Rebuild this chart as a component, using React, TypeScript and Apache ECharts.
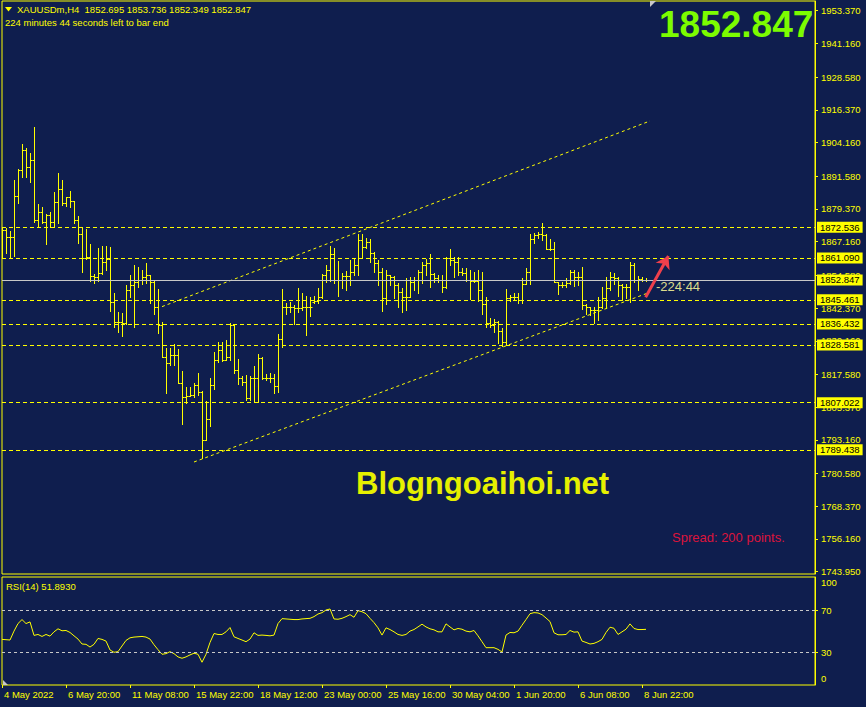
import { useEffect, useRef } from 'react';
import * as echarts from 'echarts';

const FONT = "'Liberation Sans', Arial, sans-serif";
const YEL = '#ffff00';
const BG = '#0f1e4e';

// time axis labels (every 16 H4 bars)
const labelBars = [0, 16, 32, 48, 64, 80, 96, 112, 128, 144, 160];
const barLabels = ['4 May 2022', '6 May 20:00', '11 May 08:00', '15 May 22:00', '18 May 12:00', '23 May 00:00', '25 May 16:00', '30 May 04:00', '1 Jun 20:00', '6 Jun 08:00', '8 Jun 22:00'];

// price scale labels
const priceTicks = [1953.37, 1941.16, 1928.58, 1916.37, 1904.16, 1891.58, 1879.37, 1867.16, 1854.58, 1842.37, 1830.16, 1817.58, 1805.37, 1793.16, 1780.58, 1768.37, 1756.16, 1743.95];
const rsiTicks = [0, 30, 70, 100];
const rsiLevels = [70, 30];

// horizontal levels and bid
const levelPrices = [1872.536, 1861.09, 1845.461, 1836.432, 1828.581, 1807.022, 1789.438];
const bidPrice = 1852.847;

// channel lines [barIndex, price]
const upperChannel = [[40, 1842.9], [162, 1912.2]];
const lowerChannel = [[48, 1784.9], [161.5, 1848.0]];
const arrowFrom = [160.9, 1846.4];
const arrowTo = [166.6, 1861.8];

// XAUUSD H4 OHLC
const opens = [1870.9, 1871.5, 1869.0, 1869.0, 1884.2, 1893.9, 1901.4, 1895.2, 1897.6, 1875.2,
  1878.1, 1874.6, 1877.1, 1874.6, 1882.1, 1886.7, 1881.5, 1883.7, 1882.5, 1875.2,
  1869.9, 1860.9, 1861.6, 1854.3, 1854.1, 1855.3, 1859.7, 1860.6, 1844.8, 1837.3,
  1837.3, 1836.7, 1849.1, 1851.0, 1852.2, 1852.8, 1854.1, 1854.7, 1852.2, 1842.9,
  1836.0, 1824.2, 1821.7, 1824.9, 1824.9, 1814.3, 1809.3, 1809.5, 1809.9, 1813.7,
  1811.2, 1793.1, 1800.8, 1813.7, 1823.0, 1826.7, 1823.0, 1824.0, 1836.0, 1819.3,
  1816.1, 1814.9, 1808.7, 1816.1, 1816.1, 1823.6, 1816.1, 1816.4, 1816.1, 1813.4,
  1830.7, 1842.9, 1842.9, 1842.6, 1842.3, 1842.3, 1842.6, 1842.6, 1844.5, 1845.1,
  1846.4, 1854.7, 1856.6, 1862.6, 1852.8, 1852.8, 1854.3, 1854.3, 1856.0, 1858.4,
  1867.8, 1865.3, 1867.2, 1862.8, 1859.1, 1856.0, 1846.0, 1854.7, 1854.1, 1851.0,
  1848.5, 1846.6, 1846.6, 1852.2, 1852.8, 1856.0, 1858.4, 1859.1, 1855.1, 1853.5,
  1852.8, 1850.1, 1860.9, 1860.3, 1859.7, 1856.0, 1855.6, 1852.8, 1852.6, 1852.6,
  1849.1, 1843.9, 1836.7, 1836.0, 1837.3, 1833.9, 1829.8, 1846.0, 1846.4, 1846.4,
  1845.4, 1851.4, 1856.0, 1868.0, 1869.6, 1870.0, 1869.6, 1864.4, 1864.3, 1852.2,
  1851.0, 1851.0, 1851.8, 1856.0, 1854.1, 1854.1, 1843.5, 1842.6, 1841.6, 1841.6,
  1842.6, 1846.0, 1849.7, 1854.1, 1853.5, 1851.0, 1850.1, 1850.4, 1858.4, 1852.8,
  1853.1, 1852.695];
const highs = [1872.1, 1872.1, 1871.1, 1890.2, 1894.2, 1903.6, 1902.0, 1900.1, 1909.8, 1881.2,
  1880.0, 1877.4, 1878.4, 1885.8, 1892.9, 1890.2, 1884.0, 1886.1, 1882.5, 1876.7,
  1872.8, 1871.9, 1866.2, 1855.1, 1864.9, 1865.5, 1865.5, 1865.0, 1847.9, 1841.0,
  1840.4, 1851.0, 1854.7, 1858.4, 1857.8, 1856.6, 1859.1, 1854.8, 1852.8, 1849.5,
  1837.3, 1827.3, 1827.3, 1829.0, 1827.0, 1819.0, 1813.0, 1813.0, 1814.5, 1818.0,
  1811.5, 1807.7, 1816.1, 1826.1, 1829.8, 1829.8, 1830.4, 1836.7, 1836.4, 1823.4,
  1817.0, 1817.4, 1817.0, 1820.7, 1825.2, 1824.0, 1817.8, 1818.0, 1817.8, 1832.7,
  1849.4, 1844.4, 1844.8, 1843.5, 1849.7, 1847.9, 1846.9, 1846.4, 1846.9, 1849.7,
  1855.1, 1858.4, 1865.5, 1864.7, 1860.1, 1855.6, 1856.2, 1860.3, 1860.9, 1870.0,
  1870.0, 1868.4, 1868.2, 1863.4, 1860.3, 1857.2, 1856.6, 1854.7, 1854.5, 1851.8,
  1849.7, 1853.5, 1854.1, 1853.8, 1856.6, 1859.4, 1860.6, 1862.6, 1855.6, 1854.7,
  1854.7, 1861.6, 1864.3, 1861.3, 1861.3, 1857.2, 1857.2, 1856.6, 1856.0, 1856.6,
  1856.0, 1846.4, 1838.5, 1838.2, 1837.5, 1834.8, 1849.5, 1847.2, 1847.9, 1848.1,
  1853.5, 1857.2, 1870.0, 1870.5, 1870.9, 1874.0, 1870.0, 1868.0, 1867.2, 1852.2,
  1852.2, 1853.5, 1856.6, 1856.6, 1856.0, 1857.8, 1843.9, 1842.6, 1842.9, 1846.4,
  1850.1, 1853.8, 1856.0, 1855.3, 1854.1, 1851.4, 1851.4, 1859.7, 1859.1, 1854.3,
  1853.8, 1853.736];
const lows = [1861.6, 1862.8, 1861.6, 1861.8, 1881.5, 1891.4, 1891.4, 1889.6, 1874.6, 1872.5,
  1874.2, 1866.2, 1872.8, 1873.0, 1874.2, 1880.8, 1880.5, 1880.2, 1874.0, 1866.5,
  1856.0, 1860.6, 1852.6, 1851.9, 1852.6, 1855.0, 1856.6, 1841.4, 1835.4, 1833.3,
  1831.9, 1836.4, 1846.6, 1835.2, 1850.4, 1851.4, 1851.6, 1844.1, 1840.2, 1833.2,
  1824.2, 1810.8, 1821.1, 1821.1, 1814.3, 1799.1, 1807.1, 1809.5, 1809.3, 1809.9,
  1786.5, 1793.0, 1798.3, 1812.0, 1822.4, 1822.7, 1823.0, 1823.0, 1818.0, 1813.9,
  1813.7, 1808.1, 1808.1, 1807.4, 1807.4, 1815.8, 1815.5, 1814.9, 1810.8, 1811.2,
  1827.7, 1840.0, 1841.0, 1836.4, 1841.0, 1841.6, 1832.3, 1839.4, 1844.1, 1844.1,
  1846.0, 1852.2, 1852.6, 1851.8, 1846.9, 1849.7, 1849.1, 1851.0, 1854.7, 1854.7,
  1861.3, 1864.7, 1859.7, 1856.0, 1851.0, 1841.4, 1843.9, 1851.0, 1846.0, 1842.9,
  1841.0, 1841.6, 1846.5, 1849.1, 1848.1, 1851.8, 1854.7, 1850.4, 1852.2, 1852.2,
  1848.5, 1850.0, 1858.4, 1854.1, 1854.7, 1854.7, 1852.6, 1845.6, 1852.2, 1845.1,
  1840.2, 1835.4, 1835.4, 1833.6, 1829.5, 1828.2, 1828.6, 1845.1, 1845.4, 1844.1,
  1844.4, 1851.4, 1851.4, 1866.5, 1868.4, 1867.8, 1864.3, 1864.0, 1852.2, 1847.6,
  1850.4, 1850.4, 1851.4, 1850.6, 1851.0, 1841.9, 1840.2, 1839.8, 1836.9, 1837.9,
  1842.3, 1842.3, 1849.1, 1851.4, 1846.9, 1845.4, 1846.0, 1844.8, 1852.2, 1849.1,
  1852.6, 1852.349];
const closes = [1871.5, 1869.0, 1869.0, 1884.2, 1893.9, 1901.4, 1895.2, 1897.6, 1875.2, 1878.1,
  1874.6, 1877.1, 1874.6, 1882.1, 1886.7, 1881.5, 1883.7, 1882.5, 1875.2, 1869.9,
  1860.9, 1861.6, 1854.3, 1854.1, 1855.3, 1859.7, 1860.6, 1844.8, 1837.3, 1837.3,
  1836.7, 1849.1, 1851.0, 1852.2, 1852.8, 1854.1, 1854.7, 1852.2, 1842.9, 1836.0,
  1824.2, 1821.7, 1824.9, 1824.9, 1814.3, 1809.3, 1809.5, 1809.9, 1813.7, 1811.2,
  1793.1, 1800.8, 1813.7, 1823.0, 1826.7, 1823.0, 1824.0, 1836.0, 1819.3, 1816.1,
  1814.9, 1808.7, 1816.1, 1816.1, 1823.6, 1816.1, 1816.4, 1816.1, 1813.4, 1830.7,
  1842.9, 1842.9, 1842.6, 1842.3, 1842.3, 1842.6, 1842.6, 1842.6, 1845.1, 1846.4,
  1854.7, 1856.6, 1862.6, 1852.8, 1852.8, 1854.3, 1854.3, 1856.0, 1858.4, 1867.8,
  1865.3, 1867.2, 1862.8, 1859.1, 1856.0, 1846.0, 1854.7, 1854.1, 1851.0, 1848.5,
  1846.6, 1846.6, 1852.2, 1852.8, 1856.0, 1858.4, 1859.1, 1855.1, 1853.5, 1852.8,
  1850.1, 1860.9, 1860.3, 1859.7, 1856.0, 1855.6, 1852.8, 1852.6, 1852.6, 1849.1,
  1843.9, 1836.7, 1836.0, 1837.3, 1833.9, 1829.8, 1846.0, 1846.4, 1846.4, 1845.4,
  1851.4, 1856.0, 1868.0, 1869.6, 1870.0, 1869.6, 1864.4, 1864.3, 1852.2, 1851.0,
  1851.0, 1851.8, 1856.0, 1854.1, 1854.1, 1843.5, 1842.6, 1841.6, 1841.6, 1842.6,
  1846.0, 1849.7, 1854.1, 1853.5, 1851.0, 1850.1, 1850.4, 1858.4, 1852.8, 1853.1,
  1852.7, 1852.847];

// RSI(14)
const rsi14 = [42.3, 42.0, 41.7, 50.2, 57.4, 61.2, 57.4, 59.0, 46.1, 47.0,
  45.1, 47.0, 45.4, 49.5, 52.4, 50.5, 50.8, 48.9, 45.7, 42.6,
  37.9, 37.6, 35.0, 37.6, 43.2, 42.3, 40.7, 32.2, 30.0, 30.6,
  36.0, 41.3, 43.8, 44.5, 44.8, 45.1, 44.5, 42.6, 37.2, 32.5,
  28.1, 28.7, 30.6, 28.7, 25.6, 24.3, 25.6, 27.5, 29.1, 28.1,
  20.5, 28.1, 39.4, 47.9, 47.0, 47.0, 49.5, 53.6, 44.8, 43.2,
  41.7, 40.1, 42.6, 48.6, 46.1, 46.4, 46.1, 45.7, 46.4, 57.4,
  62.1, 61.8, 61.5, 61.2, 61.2, 61.8, 62.1, 62.4, 64.0, 66.5,
  67.8, 70.3, 71.3, 61.8, 61.5, 62.4, 64.0, 65.9, 63.4, 69.7,
  68.7, 66.8, 62.4, 58.3, 53.3, 46.4, 53.3, 51.7, 49.5, 47.0,
  46.1, 47.0, 50.2, 51.7, 54.2, 56.8, 54.2, 52.4, 51.4, 49.5,
  49.5, 57.1, 54.2, 51.4, 52.7, 52.0, 50.2, 49.5, 50.8, 45.7,
  40.1, 34.4, 34.4, 34.4, 32.8, 30.3, 46.4, 48.9, 48.6, 50.2,
  55.8, 61.2, 66.8, 67.8, 67.5, 65.9, 62.7, 59.3, 48.6, 46.7,
  46.7, 47.0, 50.8, 49.2, 49.5, 40.7, 39.4, 37.9, 38.5, 40.1,
  42.3, 48.9, 53.9, 52.9, 47.0, 49.5, 52.0, 57.1, 52.7, 51.7,
  51.7, 51.893];

export default function App() {
  const ref = useRef<HTMLDivElement>(null);
  useEffect(() => {
    const chart = echarts.init(ref.current as HTMLDivElement, null, { renderer: 'svg' });
    const txt = { fontFamily: FONT, fontSize: 9.5, color: YEL };
    const bars = opens.map((o, i) => [i, o, highs[i], lows[i], closes[i]]);
    const levelLabel = {
      show: true, position: 'end', distance: 2,
      formatter: (p: any) => p.name,
      backgroundColor: YEL, color: '#000', fontFamily: FONT, fontSize: 9.5,
      padding: [1, 3, 0, 3], lineHeight: 10,
    };
    const option: any = {
      animation: false,
      backgroundColor: BG,
      grid: [
        { left: 2, top: 1, width: 813, height: 573, show: true, borderColor: YEL, borderWidth: 1, backgroundColor: 'transparent', containLabel: false, outerBoundsMode: 'none' },
        { left: 2, top: 577, width: 813, height: 108, show: true, borderColor: YEL, borderWidth: 1, backgroundColor: 'transparent', containLabel: false, outerBoundsMode: 'none' },
      ],
      xAxis: [
        { type: 'value', gridIndex: 0, min: 0, max: 203.25, show: false, splitLine: { show: false }, axisTick: { show: false }, axisLabel: { show: false }, axisLine: { show: false, onZero: false } },
        {
          type: 'value', gridIndex: 1, min: 0, max: 203.25, position: 'bottom',
          axisLine: { show: false, onZero: false }, splitLine: { show: false },
          axisTick: { show: true, length: 3, lineStyle: { color: YEL }, customValues: labelBars },
          axisLabel: {
            ...txt, margin: 4, align: 'left', padding: [0, 0, 0, 2],
            customValues: labelBars,
            formatter: (v: number) => { const k = labelBars.indexOf(Math.round(v)); return k >= 0 ? barLabels[k] : ''; },
          },
        },
      ],
      yAxis: [
        {
          type: 'value', gridIndex: 0, position: 'right', min: 1743.09, max: 1956.99,
          axisLine: { show: true, onZero: false, lineStyle: { color: YEL } }, splitLine: { show: false },
          axisTick: { show: true, inside: false, length: 3, lineStyle: { color: YEL }, customValues: priceTicks },
          axisLabel: { ...txt, margin: 6, customValues: priceTicks, formatter: (v: number) => v.toFixed(3) },
        },
        {
          type: 'value', gridIndex: 1, position: 'right', min: -1.2, max: 101.8,
          axisLine: { show: true, onZero: false, lineStyle: { color: YEL } }, splitLine: { show: false },
          axisTick: { show: true, inside: false, length: 3, lineStyle: { color: YEL }, customValues: [30, 70] },
          axisLabel: {
            ...txt, margin: 6, customValues: rsiTicks,
            formatter: (v: number) => (v === 100 ? '{t|100}' : v === 0 ? '{b|0}' : '{n|' + v + '}'),
            rich: {
              t: { fontFamily: FONT, fontSize: 9.5, color: YEL, padding: [8, 0, 0, 0] },
              b: { fontFamily: FONT, fontSize: 9.5, color: YEL, padding: [0, 0, 10, 0] },
              n: { fontFamily: FONT, fontSize: 9.5, color: YEL },
            },
          },
        },
      ],
      series: [
        {
          type: 'custom', xAxisIndex: 0, yAxisIndex: 0, data: bars, clip: true,
          encode: { x: 0, y: [1, 2, 3, 4] },
          renderItem: (params: any, api: any) => {
            const i = api.value(0);
            const o = api.coord([i, api.value(1)]);
            const h = api.coord([i, api.value(2)]);
            const l = api.coord([i, api.value(3)]);
            const c = api.coord([i, api.value(4)]);
            const px = Math.round(h[0]) + 0.5;
            const st = { stroke: YEL, lineWidth: 1 };
            const oy = Math.round(o[1]) + 0.5;
            const cy = Math.round(c[1]) + 0.5;
            return {
              type: 'group',
              children: [
                { type: 'line', shape: { x1: px, y1: Math.round(h[1]), x2: px, y2: Math.round(l[1]) + 1 }, style: st },
                { type: 'line', shape: { x1: px - 2, y1: oy, x2: px, y2: oy }, style: st },
                { type: 'line', shape: { x1: px, y1: cy, x2: px + 2, y2: cy }, style: st },
              ],
            };
          },
        },
        {
          type: 'line', xAxisIndex: 0, yAxisIndex: 0, data: upperChannel, symbol: 'none', silent: true,
          lineStyle: { color: YEL, width: 1, type: [3, 3] },
          markLine: {
            silent: true, symbol: 'none', animation: false, precision: 3,
            data: [
              ...levelPrices.map((v) => ({ name: v.toFixed(3), yAxis: v, lineStyle: { color: YEL, width: 1, type: [4, 3] }, label: levelLabel })),
              { name: bidPrice.toFixed(3), yAxis: bidPrice, lineStyle: { color: '#c8c8c8', width: 1, type: 'solid' }, label: levelLabel },
            ],
          },
        },
        {
          type: 'line', xAxisIndex: 0, yAxisIndex: 0, data: lowerChannel, symbol: 'none', silent: true,
          lineStyle: { color: YEL, width: 1, type: [3, 3] },
          markLine: {
            silent: true, animation: false, symbol: ['none', 'arrow'], symbolSize: 12,
            label: { show: false },
            lineStyle: { color: '#f0404c', width: 3, type: 'solid' },
            data: [[{ coord: arrowFrom }, { coord: arrowTo }]],
          },
        },
        {
          type: 'line', xAxisIndex: 1, yAxisIndex: 1, data: rsi14.map((v, i) => [i, v]), symbol: 'none', silent: true,
          lineStyle: { color: YEL, width: 1 },
          markLine: {
            silent: true, symbol: 'none', animation: false, label: { show: false },
            lineStyle: { color: '#c8c8c8', width: 1, type: [3, 3] },
            data: rsiLevels.map((v) => ({ yAxis: v })),
          },
        },
      ],
      graphic: [
        { type: 'polygon', shape: { points: [[5, 7], [12, 7], [8.5, 11.5]] }, style: { fill: YEL } },
        { type: 'text', x: 17, y: 9, style: { text: 'XAUUSDm,H4 \u00a01852.695 1853.736 1852.349 1852.847', fill: YEL, font: `9.5px ${FONT}`, verticalAlign: 'middle' } },
        { type: 'text', x: 5, y: 22, style: { text: '224 minutes 44 seconds left to bar end', fill: YEL, font: `9.5px ${FONT}`, verticalAlign: 'middle' } },
        { type: 'text', x: 659, y: 24, style: { text: '1852.847', fill: '#7cfc00', font: `bold 37px ${FONT}`, verticalAlign: 'middle' } },
        { type: 'text', x: 356, y: 483, style: { text: 'Blogngoaihoi.net', fill: '#e6f000', font: `bold 31px ${FONT}`, verticalAlign: 'middle' } },
        { type: 'text', x: 672, y: 537, style: { text: 'Spread: 200 points.', fill: '#dc143c', font: `13px ${FONT}`, verticalAlign: 'middle' } },
        { type: 'text', x: 656, y: 286, style: { text: '-224:44', fill: '#dcdc8c', font: `13px ${FONT}`, verticalAlign: 'middle' } },
        { type: 'text', x: 6, y: 586, style: { text: 'RSI(14) 51.8930', fill: YEL, font: `9.5px ${FONT}`, verticalAlign: 'middle' } },
        { type: 'polygon', shape: { points: [[650, 1], [656, 1], [650, 7]] }, style: { fill: '#c8c8c8' } },
        { type: 'polygon', shape: { points: [[3, 685], [3, 680], [8, 685]] }, style: { fill: '#c8c8c8' } },
      ],
    };
    chart.setOption(option);
    return () => chart.dispose();
  }, []);
  return <div ref={ref} style={{ position: 'fixed', left: 0, top: 0, width: 866, height: 707, background: BG }} />;
}
